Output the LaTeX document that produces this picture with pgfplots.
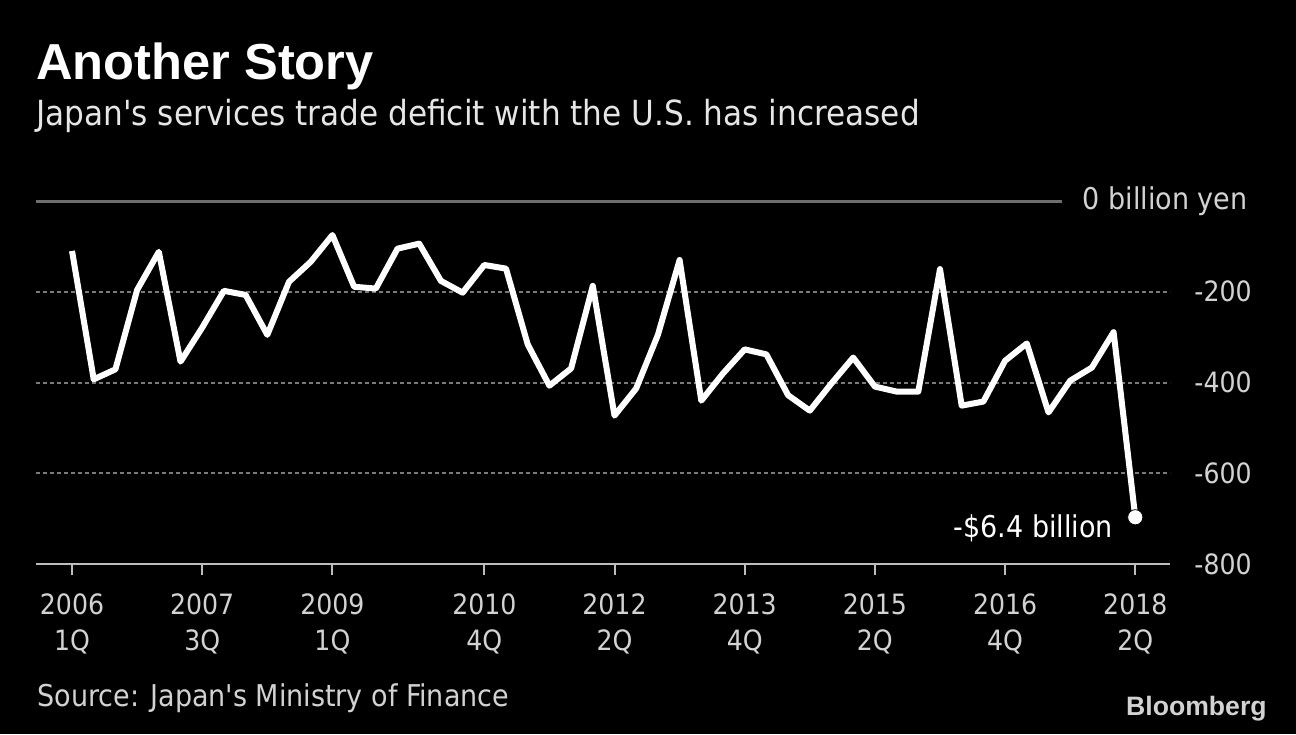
\documentclass[border=0pt]{standalone}
\usepackage{pgfplots}
\pgfplotsset{compat=1.18}
\usepackage{fontspec}
\IfFontExistsTF{DejaVu Sans Condensed}{\newfontfamily\nf{DejaVu Sans Condensed}}{\newfontfamily\nf{Liberation Sans}}
\newfontfamily\tf{Liberation Sans}
\definecolor{gridc}{HTML}{7A7A7A}
\definecolor{zeroc}{HTML}{6E6E6E}
\definecolor{axisc}{HTML}{BDBDBD}
\definecolor{labc}{HTML}{D2D2D2}
\definecolor{subc}{HTML}{E6E6E6}
\pgfplotstableread{
x y
0 -110
1 -393
2 -371
3 -196
4 -112
5 -354
6 -279
7 -198
8 -207
9 -295
10 -178
11 -134
12 -75
13 -189
14 -193
15 -105
16 -94
17 -176
18 -202
19 -141
20 -149
21 -316
22 -407
23 -369
24 -187
25 -473
26 -413
27 -295
28 -130
29 -440
30 -380
31 -327
32 -338
33 -428
34 -462
35 -402
36 -345
37 -409
38 -420
39 -420
40 -150
41 -451
42 -442
43 -352
44 -314
45 -466
46 -396
47 -367
48 -289
49 -697
}\datatable
\begin{document}
\begin{tikzpicture}
\fill[black] (0,0) rectangle (648pt,367pt);
\useasboundingbox (0,0) rectangle (648pt,367pt);
\node[anchor=base west, inner sep=0pt, text=white, font=\tf\bfseries\fontsize{25.3pt}{30pt}\selectfont] at (18pt,327pt) {Another Story};
\node[anchor=base west, inner sep=0pt, text=subc, font=\nf\fontsize{17.3pt}{22pt}\selectfont] at (18pt,304pt) {Japan's services trade deficit with the U.S. has increased};
\node[anchor=base west, inner sep=0pt, text=labc, font=\nf\fontsize{15pt}{18pt}\selectfont] at (18.5pt,14pt) {Source: Japan's Ministry of Finance};
\node[anchor=base east, inner sep=0pt, text=labc, font=\tf\bfseries\fontsize{13.3pt}{16pt}\selectfont] at (633.5pt,9.5pt) {Bloomberg};
\node[anchor=base east, inner sep=0pt, text=labc, font=\nf\fontsize{15pt}{18pt}\selectfont] at (624pt,262pt) {0 billion yen};
\begin{axis}[
  at={(18pt,85pt)}, anchor=south west,
  scale only axis, width=567pt, height=181.5pt,
  xmin=-1.66, xmax=50.6, ymin=-800, ymax=0,
  clip=false,
  axis x line*=bottom, axis y line*=right,
  x axis line style={-, draw=axisc, line width=1pt},
  y axis line style={draw=none},
  xtick={0,6,12,19,25,31,37,43,49},
  xticklabels={{2006\\1Q},{2007\\3Q},{2009\\1Q},{2010\\4Q},{2012\\2Q},{2013\\4Q},{2015\\2Q},{2016\\4Q},{2018\\2Q}},
  xticklabel style={align=center, anchor=north, inner sep=0pt, text=labc, font=\nf\fontsize{14pt}{18pt}\selectfont, yshift=-9pt},
  x tick style={draw=axisc, line width=1pt},
  tick align=outside, major tick length=5.5pt,
  ytick={-600,-400,-200}, yticklabels={-600,-400,-200},
  extra y ticks={-800}, extra y tick labels={-800},
  extra y tick style={grid=none},
  ymajorgrids, grid style={draw=gridc, line width=1pt, dash pattern=on 2pt off 1.5pt},
  y tick style={draw=none},
  yticklabel style={anchor=east, inner sep=0pt, xshift=35.5pt, text=labc, font=\nf\fontsize{14pt}{18pt}\selectfont},
]
\draw[zeroc, line width=1.5pt] (axis cs:-1.66,0) -- (axis cs:45.63,0);
\addplot[white, line width=3pt, line join=round] table[x=x, y=y] {\datatable};
\addplot[only marks, mark=*, mark size=3.8pt, mark options={draw=none, fill=white}] coordinates {(49,-697)};
\node[anchor=base east, inner sep=0pt, xshift=-11pt, yshift=-10pt, text=white, font=\nf\fontsize{15pt}{18pt}\selectfont] at (axis cs:49,-697) {-\$6.4 billion};
\end{axis}
\end{tikzpicture}
\end{document}
